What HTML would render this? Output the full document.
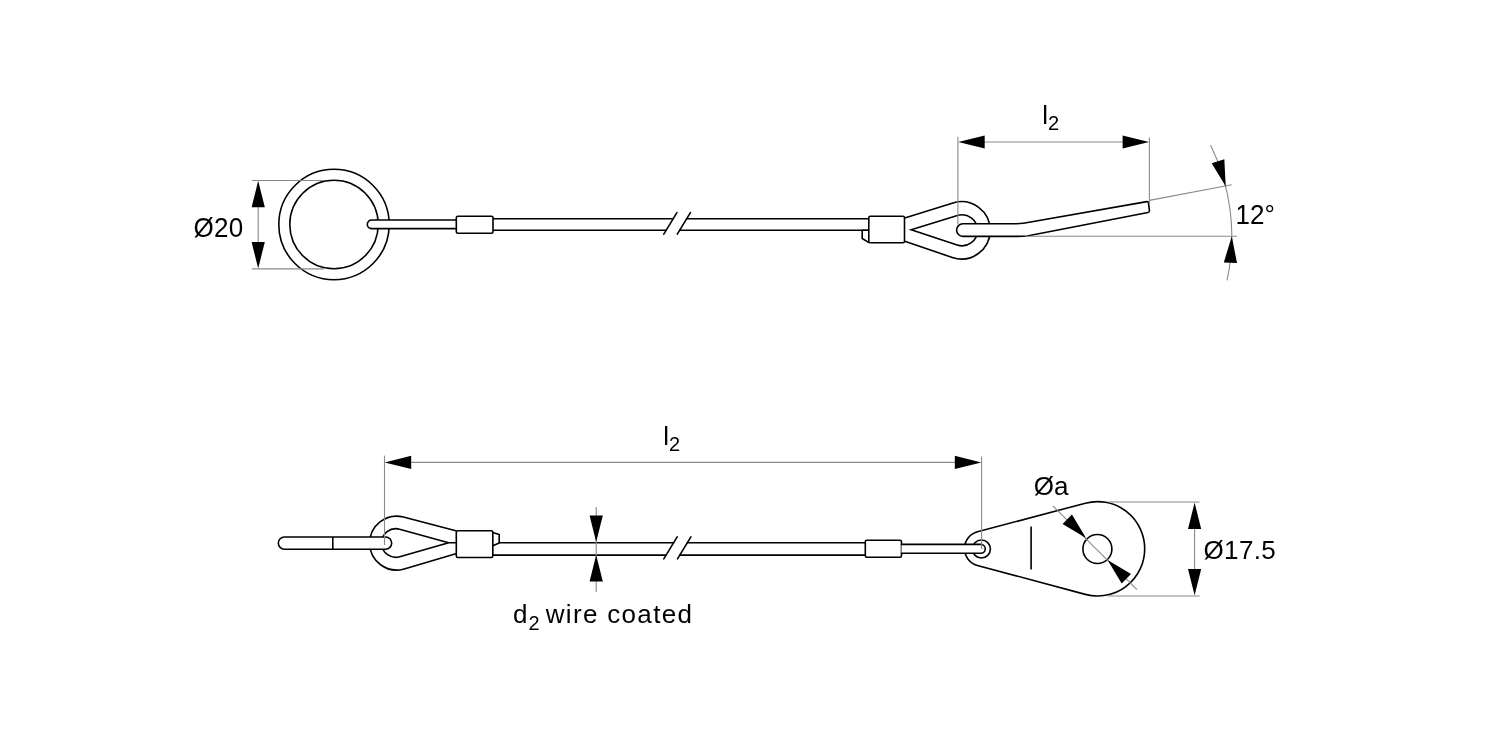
<!DOCTYPE html>
<html><head><meta charset="utf-8"><style>
html,body{margin:0;padding:0;background:#fff;width:1500px;height:750px;overflow:hidden}
svg{display:block;filter:grayscale(1)}
text{font-family:"Liberation Sans",sans-serif;fill:#000}
</style></head><body>
<svg width="1500" height="750" viewBox="0 0 1500 750">
<circle cx="334.0" cy="224.5" r="55.2" fill="none" stroke="#000" stroke-width="1.6"/>
<circle cx="334.0" cy="224.5" r="44.2" fill="none" stroke="#000" stroke-width="1.6"/>
<path d="M456.3 220.0H371.60A4.30 4.30 0 0 0 371.60 228.6H456.3" fill="#fff" stroke="#000" stroke-width="1.6" stroke-linejoin="round" stroke-linecap="round"/>
<path d="M493 218.8H673.14M493 230.2H666.23" fill="none" stroke="#000" stroke-width="1.6" stroke-linejoin="round" stroke-linecap="round"/>
<path d="M686.64 218.8H868.8M679.73 230.2H868.8" fill="none" stroke="#000" stroke-width="1.6" stroke-linejoin="round" stroke-linecap="round"/>
<line x1="663.80" y1="234.20" x2="676.90" y2="212.60" stroke="#000" stroke-width="1.6" stroke-linecap="round"/>
<line x1="677.30" y1="234.20" x2="690.40" y2="212.60" stroke="#000" stroke-width="1.6" stroke-linecap="round"/>
<rect x="456.3" y="216.2" width="36.7" height="17.1" rx="1.5" fill="#fff" stroke="#000" stroke-width="1.6"/>
<path d="M868.8 230.2H862.2V238.5L869 242.6" fill="none" stroke="#000" stroke-width="1.6" stroke-linejoin="round" stroke-linecap="round"/>
<rect x="868.8" y="216.2" width="35.7" height="26.6" rx="1.5" fill="#fff" stroke="#000" stroke-width="1.6"/>
<path d="M905.5 217.8L952.97 203.00A28.65 28.65 0 1 1 952.24 257.46L905.5 241.5" fill="none" stroke="#000" stroke-width="1.6" stroke-linejoin="round" stroke-linecap="round"/>
<path d="M911.2 229.8L957.42 215.49A15.5 15.5 0 1 1 957.13 245.01Z" fill="none" stroke="#000" stroke-width="1.6" stroke-linejoin="miter" stroke-linecap="round"/>
<path d="M962.90 223.8H1015.3Q1020.5 223.8 1024.9 222.95L1146.8 201.6Q1148.3 201.4 1148.5 202.8L1149.4 210.4Q1149.6 212.1 1148.0 212.5L1027.0 236.0Q1022.5 236.4 1017.4 236.4H962.90A6.30 6.30 0 0 1 962.90 223.8Z" fill="#fff" stroke="#000" stroke-width="1.6" stroke-linejoin="round" stroke-linecap="round"/>
<line x1="957.90" y1="136.80" x2="957.90" y2="224.50" stroke="#8a8a8a" stroke-width="1.1" stroke-linecap="butt"/>
<line x1="1149.40" y1="137.50" x2="1149.40" y2="204.00" stroke="#8a8a8a" stroke-width="1.1" stroke-linecap="butt"/>
<line x1="970.00" y1="142.00" x2="1137.00" y2="142.00" stroke="#8a8a8a" stroke-width="1.1" stroke-linecap="butt"/>
<path d="M958.20 142.00L984.70 135.40L984.70 148.60Z" fill="#000"/>
<path d="M1149.10 142.00L1122.60 148.60L1122.60 135.40Z" fill="#000"/>
<text x="1042.30" y="123.90" font-size="26" >l</text>
<text x="1048.10" y="129.80" font-size="20" >2</text>
<line x1="1149.40" y1="200.40" x2="1231.70" y2="184.80" stroke="#8a8a8a" stroke-width="1.1" stroke-linecap="butt"/>
<line x1="1025.60" y1="236.30" x2="1237.00" y2="236.30" stroke="#8a8a8a" stroke-width="1.1" stroke-linecap="butt"/>
<path d="M1210.55 145.00A206.8 206.8 0 0 1 1227.05 280.35" fill="none" stroke="#8a8a8a" stroke-width="1.1"/>
<path d="M1225.73 186.57L1211.71 163.13L1224.33 159.29Z" fill="#000"/>
<path d="M1231.80 236.30L1237.00 263.11L1223.82 262.42Z" fill="#000"/>
<text transform="translate(1235.60 223.70) scale(1 1.04)" font-size="26" >12°</text>
<line x1="251.80" y1="180.45" x2="324.00" y2="180.45" stroke="#8a8a8a" stroke-width="1.1" stroke-linecap="butt"/>
<line x1="251.80" y1="268.90" x2="324.00" y2="268.90" stroke="#8a8a8a" stroke-width="1.1" stroke-linecap="butt"/>
<line x1="258.20" y1="190.00" x2="258.20" y2="260.00" stroke="#8a8a8a" stroke-width="1.1" stroke-linecap="butt"/>
<path d="M258.20 180.80L264.80 207.30L251.60 207.30Z" fill="#000"/>
<path d="M258.20 268.50L251.60 242.00L264.80 242.00Z" fill="#000"/>
<text transform="translate(193.50 236.80) scale(1 1.04)" font-size="26" letter-spacing="0.3">Ø20</text>
<path d="M455.8 530.8L403.42 517.08A26.9 26.9 0 1 0 404.20 568.90L455.8 553.7" fill="none" stroke="#000" stroke-width="1.6" stroke-linejoin="round" stroke-linecap="round"/>
<path d="M448.6 542.7L399.59 529.21A14.3 14.3 0 1 0 399.75 556.74ZM448.6 542.7H456.3" fill="none" stroke="#000" stroke-width="1.6" stroke-linejoin="miter" stroke-linecap="round"/>
<rect x="278.3" y="537.0" width="113.40" height="12.20" rx="6.10" fill="#fff" stroke="#000" stroke-width="1.6"/>
<line x1="332.80" y1="537.00" x2="332.80" y2="549.20" stroke="#000" stroke-width="1.6" stroke-linecap="butt"/>
<path d="M492.8 532.5L499.2 534.5V543L492.8 545.8" fill="none" stroke="#000" stroke-width="1.6" stroke-linejoin="round" stroke-linecap="round"/>
<rect x="456.3" y="530.8" width="36.5" height="26.7" rx="1.5" fill="#fff" stroke="#000" stroke-width="1.6"/>
<path d="M499.2 542.8H673.61M492.8 555.1H666.11" fill="none" stroke="#000" stroke-width="1.6" stroke-linejoin="round" stroke-linecap="round"/>
<path d="M687.31 542.8H865.3M679.81 555.1H865.3" fill="none" stroke="#000" stroke-width="1.6" stroke-linejoin="round" stroke-linecap="round"/>
<line x1="663.80" y1="558.90" x2="677.20" y2="536.90" stroke="#000" stroke-width="1.6" stroke-linecap="round"/>
<line x1="677.50" y1="558.90" x2="690.90" y2="536.90" stroke="#000" stroke-width="1.6" stroke-linecap="round"/>
<rect x="865.3" y="540.3" width="36.2" height="17.0" rx="1.5" fill="#fff" stroke="#000" stroke-width="1.6"/>
<path d="M977.44 531.78L1085.41 503.17A47.2 47.2 0 1 1 1085.25 594.38L977.39 565.40A17.4 17.4 0 0 1 977.44 531.78Z" fill="none" stroke="#000" stroke-width="1.6" stroke-linejoin="round" stroke-linecap="round"/>
<line x1="1031.10" y1="526.50" x2="1031.10" y2="569.50" stroke="#000" stroke-width="1.6" stroke-linecap="butt"/>
<circle cx="1097.4" cy="549" r="14.5" fill="none" stroke="#000" stroke-width="1.6"/>
<circle cx="981.4" cy="549.0" r="9.0" fill="#fff" stroke="#000" stroke-width="1.6"/>
<path d="M901.5 544.4H980.85A4.45 4.45 0 0 1 980.85 553.3H901.5" fill="#fff" stroke="#000" stroke-width="1.6" stroke-linejoin="round" stroke-linecap="round"/>
<line x1="1053.00" y1="506.00" x2="1137.00" y2="589.60" stroke="#8a8a8a" stroke-width="1.1" stroke-linecap="butt"/>
<path d="M1086.00 538.00L1062.59 523.93L1071.93 514.59Z" fill="#000"/>
<path d="M1107.60 560.00L1131.01 574.07L1121.67 583.41Z" fill="#000"/>
<text x="1033.80" y="494.80" font-size="26" >Øa</text>
<line x1="1108.00" y1="502.00" x2="1199.60" y2="502.00" stroke="#8a8a8a" stroke-width="1.1" stroke-linecap="butt"/>
<line x1="1108.00" y1="596.00" x2="1199.60" y2="596.00" stroke="#8a8a8a" stroke-width="1.1" stroke-linecap="butt"/>
<line x1="1194.60" y1="512.00" x2="1194.60" y2="586.00" stroke="#8a8a8a" stroke-width="1.1" stroke-linecap="butt"/>
<path d="M1194.60 502.60L1201.20 529.10L1188.00 529.10Z" fill="#000"/>
<path d="M1194.60 595.60L1188.00 569.10L1201.20 569.10Z" fill="#000"/>
<text x="1203.60" y="558.80" font-size="26" letter-spacing="0.3">Ø17.5</text>
<line x1="384.50" y1="455.60" x2="384.50" y2="545.00" stroke="#8a8a8a" stroke-width="1.1" stroke-linecap="butt"/>
<line x1="981.60" y1="456.40" x2="981.60" y2="549.00" stroke="#8a8a8a" stroke-width="1.1" stroke-linecap="butt"/>
<line x1="395.00" y1="462.40" x2="970.00" y2="462.40" stroke="#8a8a8a" stroke-width="1.1" stroke-linecap="butt"/>
<path d="M384.70 462.40L411.20 455.80L411.20 469.00Z" fill="#000"/>
<path d="M981.30 462.40L954.80 469.00L954.80 455.80Z" fill="#000"/>
<text x="663.30" y="444.90" font-size="26" >l</text>
<text x="668.90" y="451.20" font-size="20" >2</text>
<line x1="596.20" y1="507.00" x2="596.20" y2="591.90" stroke="#8a8a8a" stroke-width="1.1" stroke-linecap="butt"/>
<path d="M596.20 542.10L589.60 515.60L602.80 515.60Z" fill="#000"/>
<path d="M596.20 555.10L602.80 581.60L589.60 581.60Z" fill="#000"/>
<text x="512.90" y="623.40" font-size="26" >d</text>
<text x="528.50" y="629.90" font-size="20" >2</text>
<text x="545.70" y="623.40" font-size="26" letter-spacing="1.33">wire coated</text>
</svg>
</body></html>
